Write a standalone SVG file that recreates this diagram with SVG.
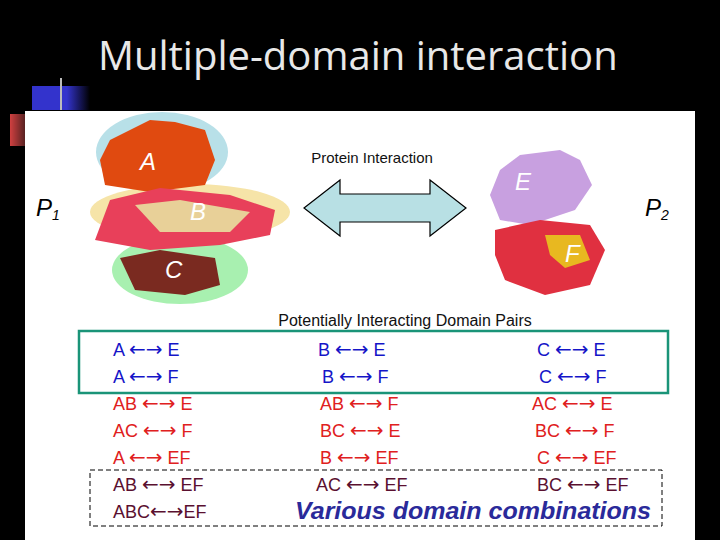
<svg xmlns="http://www.w3.org/2000/svg" width="720" height="540" viewBox="0 0 720 540">
<defs>
<style>
.t{font-family:"Liberation Sans",Arial,sans-serif;font-size:18px}
.a{font-family:"DejaVu Sans",sans-serif;font-size:20px}
.b{fill:#1515c8}.r{fill:#e02020}.m{fill:#5a1030}
.lab{font-family:"Liberation Sans",Arial,sans-serif;font-style:italic;font-size:24px;fill:#fff}
.p{font-family:"Liberation Sans",Arial,sans-serif;font-style:italic;font-size:24px;fill:#000}
</style>
<linearGradient id="bg1" x1="0" x2="1"><stop offset="0.6" stop-color="#3333cc"/><stop offset="1" stop-color="#000"/></linearGradient>
<linearGradient id="rg1" x1="0" x2="1"><stop offset="0" stop-color="#d04040"/><stop offset="1" stop-color="#502020"/></linearGradient>
</defs>
<rect width="720" height="540" fill="#000"/>
<rect x="32" y="86" width="58" height="24" fill="url(#bg1)"/>
<rect x="10" y="114" width="16" height="32" fill="url(#rg1)"/>
<line x1="61" y1="78" x2="61" y2="110" stroke="#bbb" stroke-width="2"/>
<text x="98" y="70" font-family="'Open Sans','DejaVu Sans',sans-serif" font-size="40" fill="#e8e8e8">Multiple-domain interaction</text>
<rect x="25" y="111" width="670" height="429" fill="#fff"/>
<g id="P1">
<ellipse cx="162" cy="152" rx="66" ry="40" fill="#b8e0e8"/>
<ellipse cx="190" cy="212" rx="100" ry="28" fill="#f6e4a8"/>
<ellipse cx="180" cy="270" rx="68" ry="34" fill="#a8f0b0"/>
<path d="M100,160 L110,140 L150,120 L175,122 L205,130 L215,160 L205,185 L150,192 L105,185 Z" fill="#e04a10"/>
<path d="M110,200 L160,188 L230,195 L275,210 L270,235 L220,245 L150,250 L95,240 Z" fill="#e8405a"/>
<path d="M135,205 L180,200 L250,212 L230,232 L160,232 Z" fill="#e8d098"/>
<path d="M120,258 L160,250 L215,258 L220,285 L185,295 L135,290 Z" fill="#7a2a20"/>
<text x="140" y="170" class="lab">A</text>
<text x="190" y="220" class="lab">B</text>
<text x="165" y="278" class="lab">C</text>
<text x="36" y="216" class="p">P<tspan font-size="14" dy="4">1</tspan></text>
</g>
<g id="P2">
<path d="M500,170 L520,155 L560,150 L580,160 L592,185 L575,210 L530,225 L500,220 L490,195 Z" fill="#c8a0e0"/>
<path d="M495,230 L540,220 L590,225 L605,250 L590,285 L545,295 L505,280 L495,255 Z" fill="#e03040"/>
<path d="M545,235 L580,235 L590,260 L565,268 L550,255 Z" fill="#e8b820"/>
<text x="515" y="190" class="lab">E</text>
<text x="565" y="262" class="lab">F</text>
<text x="645" y="216" class="p">P<tspan font-size="14" dy="4">2</tspan></text>
</g>
<g id="arrow">
<path d="M304,208 L340,180 L340,194 L430,194 L430,180 L466,208 L430,236 L430,222 L340,222 L340,236 Z" fill="#b8e0e4" stroke="#000" stroke-width="1.2"/>
<text x="372" y="163" font-family="'Liberation Sans',Arial,sans-serif" font-size="15" text-anchor="middle" fill="#111">Protein Interaction</text>
</g>
<text x="405" y="326" font-family="'Liberation Sans',Arial,sans-serif" font-size="16" text-anchor="middle" fill="#111">Potentially Interacting Domain Pairs</text>
<g id="boxes">
<rect x="79" y="331" width="589" height="62" fill="none" stroke="#1a9478" stroke-width="2.5"/>
<rect x="90" y="470" width="572" height="56" fill="none" stroke="#000" stroke-dasharray="5,3"/>
</g>
<g class="t">
<text x="113" y="356" class="b">A <tspan class="a">←→</tspan> E</text><text x="318" y="356" class="b">B <tspan class="a">←→</tspan> E</text><text x="537" y="356" class="b">C <tspan class="a">←→</tspan> E</text>
<text x="113" y="383" class="b">A <tspan class="a">←→</tspan> F</text><text x="322" y="383" class="b">B <tspan class="a">←→</tspan> F</text><text x="539" y="383" class="b">C <tspan class="a">←→</tspan> F</text>
<text x="113" y="410" class="r">AB <tspan class="a">←→</tspan> E</text><text x="320" y="410" class="r">AB <tspan class="a">←→</tspan> F</text><text x="532" y="410" class="r">AC <tspan class="a">←→</tspan> E</text>
<text x="113" y="437" class="r">AC <tspan class="a">←→</tspan> F</text><text x="320" y="437" class="r">BC <tspan class="a">←→</tspan> E</text><text x="535" y="437" class="r">BC <tspan class="a">←→</tspan> F</text>
<text x="113" y="464" class="r">A <tspan class="a">←→</tspan> EF</text><text x="320" y="464" class="r">B <tspan class="a">←→</tspan> EF</text><text x="537" y="464" class="r">C <tspan class="a">←→</tspan> EF</text>
<text x="113" y="491" class="m">AB <tspan class="a">←→</tspan> EF</text><text x="316" y="491" class="m">AC <tspan class="a">←→</tspan> EF</text><text x="537" y="491" class="m">BC <tspan class="a">←→</tspan> EF</text>
<text x="113" y="518" class="m">ABC<tspan class="a">←→</tspan>EF</text>
<text x="295" y="519" font-family="'Liberation Sans',Arial,sans-serif" font-style="italic" font-weight="bold" font-size="23" fill="#2a2a9a" textLength="356" lengthAdjust="spacingAndGlyphs">Various domain combinations</text>
</g>
</svg>
